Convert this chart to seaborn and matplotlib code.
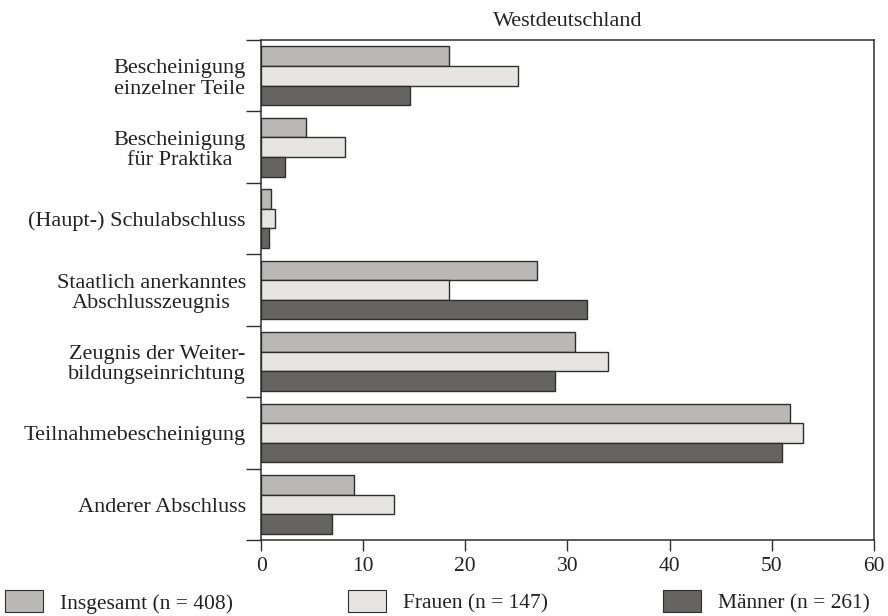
import numpy as np
import pandas as pd
import matplotlib
matplotlib.use("Agg")
import matplotlib.pyplot as plt
import seaborn as sns

# Werte (Prozent)
kategorien = [
    "Bescheinigung\neinzelner Teile",
    "Bescheinigung\nfür Praktika",
    "(Haupt-) Schulabschluss",
    "Staatlich anerkanntes\nAbschlusszeugnis",
    "Zeugnis der Weiter-\nbildungseinrichtung",
    "Teilnahmebescheinigung",
    "Anderer Abschluss",
]
gruppen = ["Insgesamt (n = 408)", "Frauen (n = 147)", "Männer (n = 261)"]
insgesamt = [18.4, 4.4, 1.0, 27.0, 30.7, 51.8, 9.1]
frauen = [25.2, 8.2, 1.4, 18.4, 34.0, 53.1, 13.0]
maenner = [14.6, 2.3, 0.8, 31.9, 28.8, 51.0, 6.9]
xticks = [0, 10, 20, 30, 40, 50, 60]

farben = ["#b9b8b6", "#e6e5e3", "#656462"]
kante = "#2e2e2e"

df = pd.DataFrame({
    "Abschluss": kategorien * 3,
    "Gruppe": [gruppen[0]] * 7 + [gruppen[1]] * 7 + [gruppen[2]] * 7,
    "Wert": insgesamt + frauen + maenner,
})

sns.set_style("white")
plt.rcParams["font.family"] = ["Liberation Serif", "DejaVu Serif"]

fig = plt.figure(figsize=(8.88, 6.16), dpi=100)
ax = fig.add_axes([0.294, 0.123, 0.69, 0.812])

sns.barplot(data=df, y="Abschluss", x="Wert", hue="Gruppe", order=kategorien,
            hue_order=gruppen, palette=farben, orient="h", width=0.82,
            edgecolor=kante, linewidth=1.0, ax=ax, legend=False)

ax.set_xlim(0, 60)
ax.set_ylim(len(kategorien) - 0.5, -0.5)
ax.set_xticks(xticks)
ax.set_xlabel("")
ax.set_ylabel("")
ax.set_title("Westdeutschland", fontsize=16, color="#222222", pad=10)

# Kategorienamen ohne Striche, Trennstriche zwischen den Gruppen
ax.set_yticks(range(len(kategorien)))
ax.set_yticklabels(kategorien, multialignment="center", linespacing=1.1)
ax.set_yticks(np.arange(-0.5, len(kategorien), 1.0), minor=True)
ax.tick_params(axis="y", which="major", length=0, pad=11, labelsize=16,
               labelcolor="#222222")
ax.tick_params(axis="y", which="minor", length=11, width=1.0, color=kante,
               direction="out", left=True)
ax.tick_params(axis="x", length=8, width=1.0, color=kante, direction="out",
               bottom=True, pad=4, labelsize=15.5, labelcolor="#222222")

for s in ax.spines.values():
    s.set_visible(True)
    s.set_color(kante)
    s.set_linewidth(1.1)

handles = [plt.Rectangle((0, 0), 1, 1, facecolor=f, edgecolor=kante, linewidth=0.8)
           for f in farben]
fig.legend(handles, gruppen, loc="lower left", ncol=3, mode="expand",
           bbox_to_anchor=(-0.004, -0.01, 0.993, 0.05), frameon=False,
           fontsize=15.5, handlelength=1.75, handleheight=1.2,
           handletextpad=0.8, borderaxespad=0.0, labelcolor="#222222")

fig.savefig("out.png", dpi=100)
